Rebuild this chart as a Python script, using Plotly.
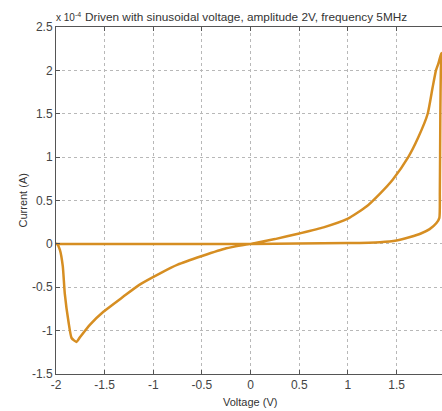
import plotly.graph_objects as go

# Hysteresis loop (current in units of 1e-4 A)
upper_v = [1.96, 1.93, 1.905, 1.87, 1.82, 1.72, 1.62, 1.46, 1.33, 1.19, 1.0, 0.75, 0.5, 0.25, 0.0,
           -0.25, -0.5, -0.75, -0.93, -1.14, -1.31, -1.51, -1.65, -1.75, -1.79, -1.84, -1.87,
           -1.91, -1.93, -1.96, -1.99]
upper_i = [2.2, 2.08, 2.0, 1.8, 1.5, 1.22, 1.0, 0.74, 0.58, 0.43, 0.29, 0.19, 0.12, 0.055, 0.0,
           -0.05, -0.14, -0.24, -0.34, -0.47, -0.61, -0.78, -0.93, -1.07, -1.13, -1.085, -0.91,
           -0.57, -0.26, -0.07, 0.0]
lower_v = [-2.0, -1.0, 0.0, 1.0, 1.33, 1.5, 1.64, 1.75, 1.84, 1.91, 1.94, 1.945, 1.95, 1.955, 1.96]
lower_i = [0.0, 0.0, 0.0, 0.01, 0.02, 0.04, 0.08, 0.12, 0.17, 0.24, 0.3, 0.6, 1.5, 2.0, 2.2]

x_ticks = [-2, -1.5, -1, -0.5, 0, 0.5, 1, 1.5, 2]
x_labels = ["-2", "-1.5", "-1", "-0.5", "0", "0.5", "1", "1.5", "2"]
y_ticks = [-1.5, -1, -0.5, 0, 0.5, 1, 1.5, 2, 2.5]
y_labels = ["-1.5", "-1", "-0.5", "0", "0.5", "1", "1.5", "2", "2.5"]

color = "#D68E22"
font = "Liberation Sans, Arial, sans-serif"

fig = go.Figure()
fig.add_trace(go.Scatter(x=upper_v + lower_v, y=upper_i + lower_i, mode="lines",
                         line=dict(color=color, width=2.5, shape="spline", smoothing=0.5),
                         hoverinfo="skip"))

axis_common = dict(showgrid=True, gridcolor="#b8b8b8", griddash="dot", gridwidth=1,
                   zeroline=False, showline=True, linecolor="#555555", linewidth=1,
                   ticks="inside", ticklen=4, tickcolor="#555555",
                   tickfont=dict(family=font, size=12, color="#444444"))

fig.update_layout(
    width=442, height=411,
    margin=dict(l=56, r=0, t=27, b=37),
    paper_bgcolor="white", plot_bgcolor="white",
    showlegend=False,
    xaxis=dict(range=[-2, 1.967], tickvals=x_ticks, ticktext=x_labels, mirror="ticks", **axis_common),
    yaxis=dict(range=[-1.5, 2.5], tickvals=y_ticks, ticktext=y_labels, **axis_common),
    annotations=[
        dict(text="Driven with sinusoidal voltage, amplitude 2V, frequency 5MHz",
             xref="paper", yref="paper", x=27 / 386, y=1, yshift=10, xanchor="left", yanchor="middle",
             showarrow=False, font=dict(family=font, size=11.8, color="#333333")),
        dict(text="x 10<sup>-4</sup>", xref="paper", yref="paper", x=0, y=1, xshift=-2, yshift=10,
             xanchor="left", yanchor="middle", showarrow=False,
             font=dict(family=font, size=10, color="#333333")),
        dict(text="Voltage (V)", xref="paper", yref="paper", x=0.5026, y=0, yshift=-28,
             xanchor="center", yanchor="middle", showarrow=False,
             font=dict(family=font, size=11, color="#333333")),
        dict(text="Current (A)", xref="paper", yref="paper", x=0, y=0.5, xshift=-34,
             xanchor="center", yanchor="middle", textangle=-90, showarrow=False,
             font=dict(family=font, size=11, color="#333333")),
    ],
)

fig.write_html("out.html", config={"displayModeBar": False},
               post_script="document.body.style.margin='0';document.body.style.overflow='hidden';")
